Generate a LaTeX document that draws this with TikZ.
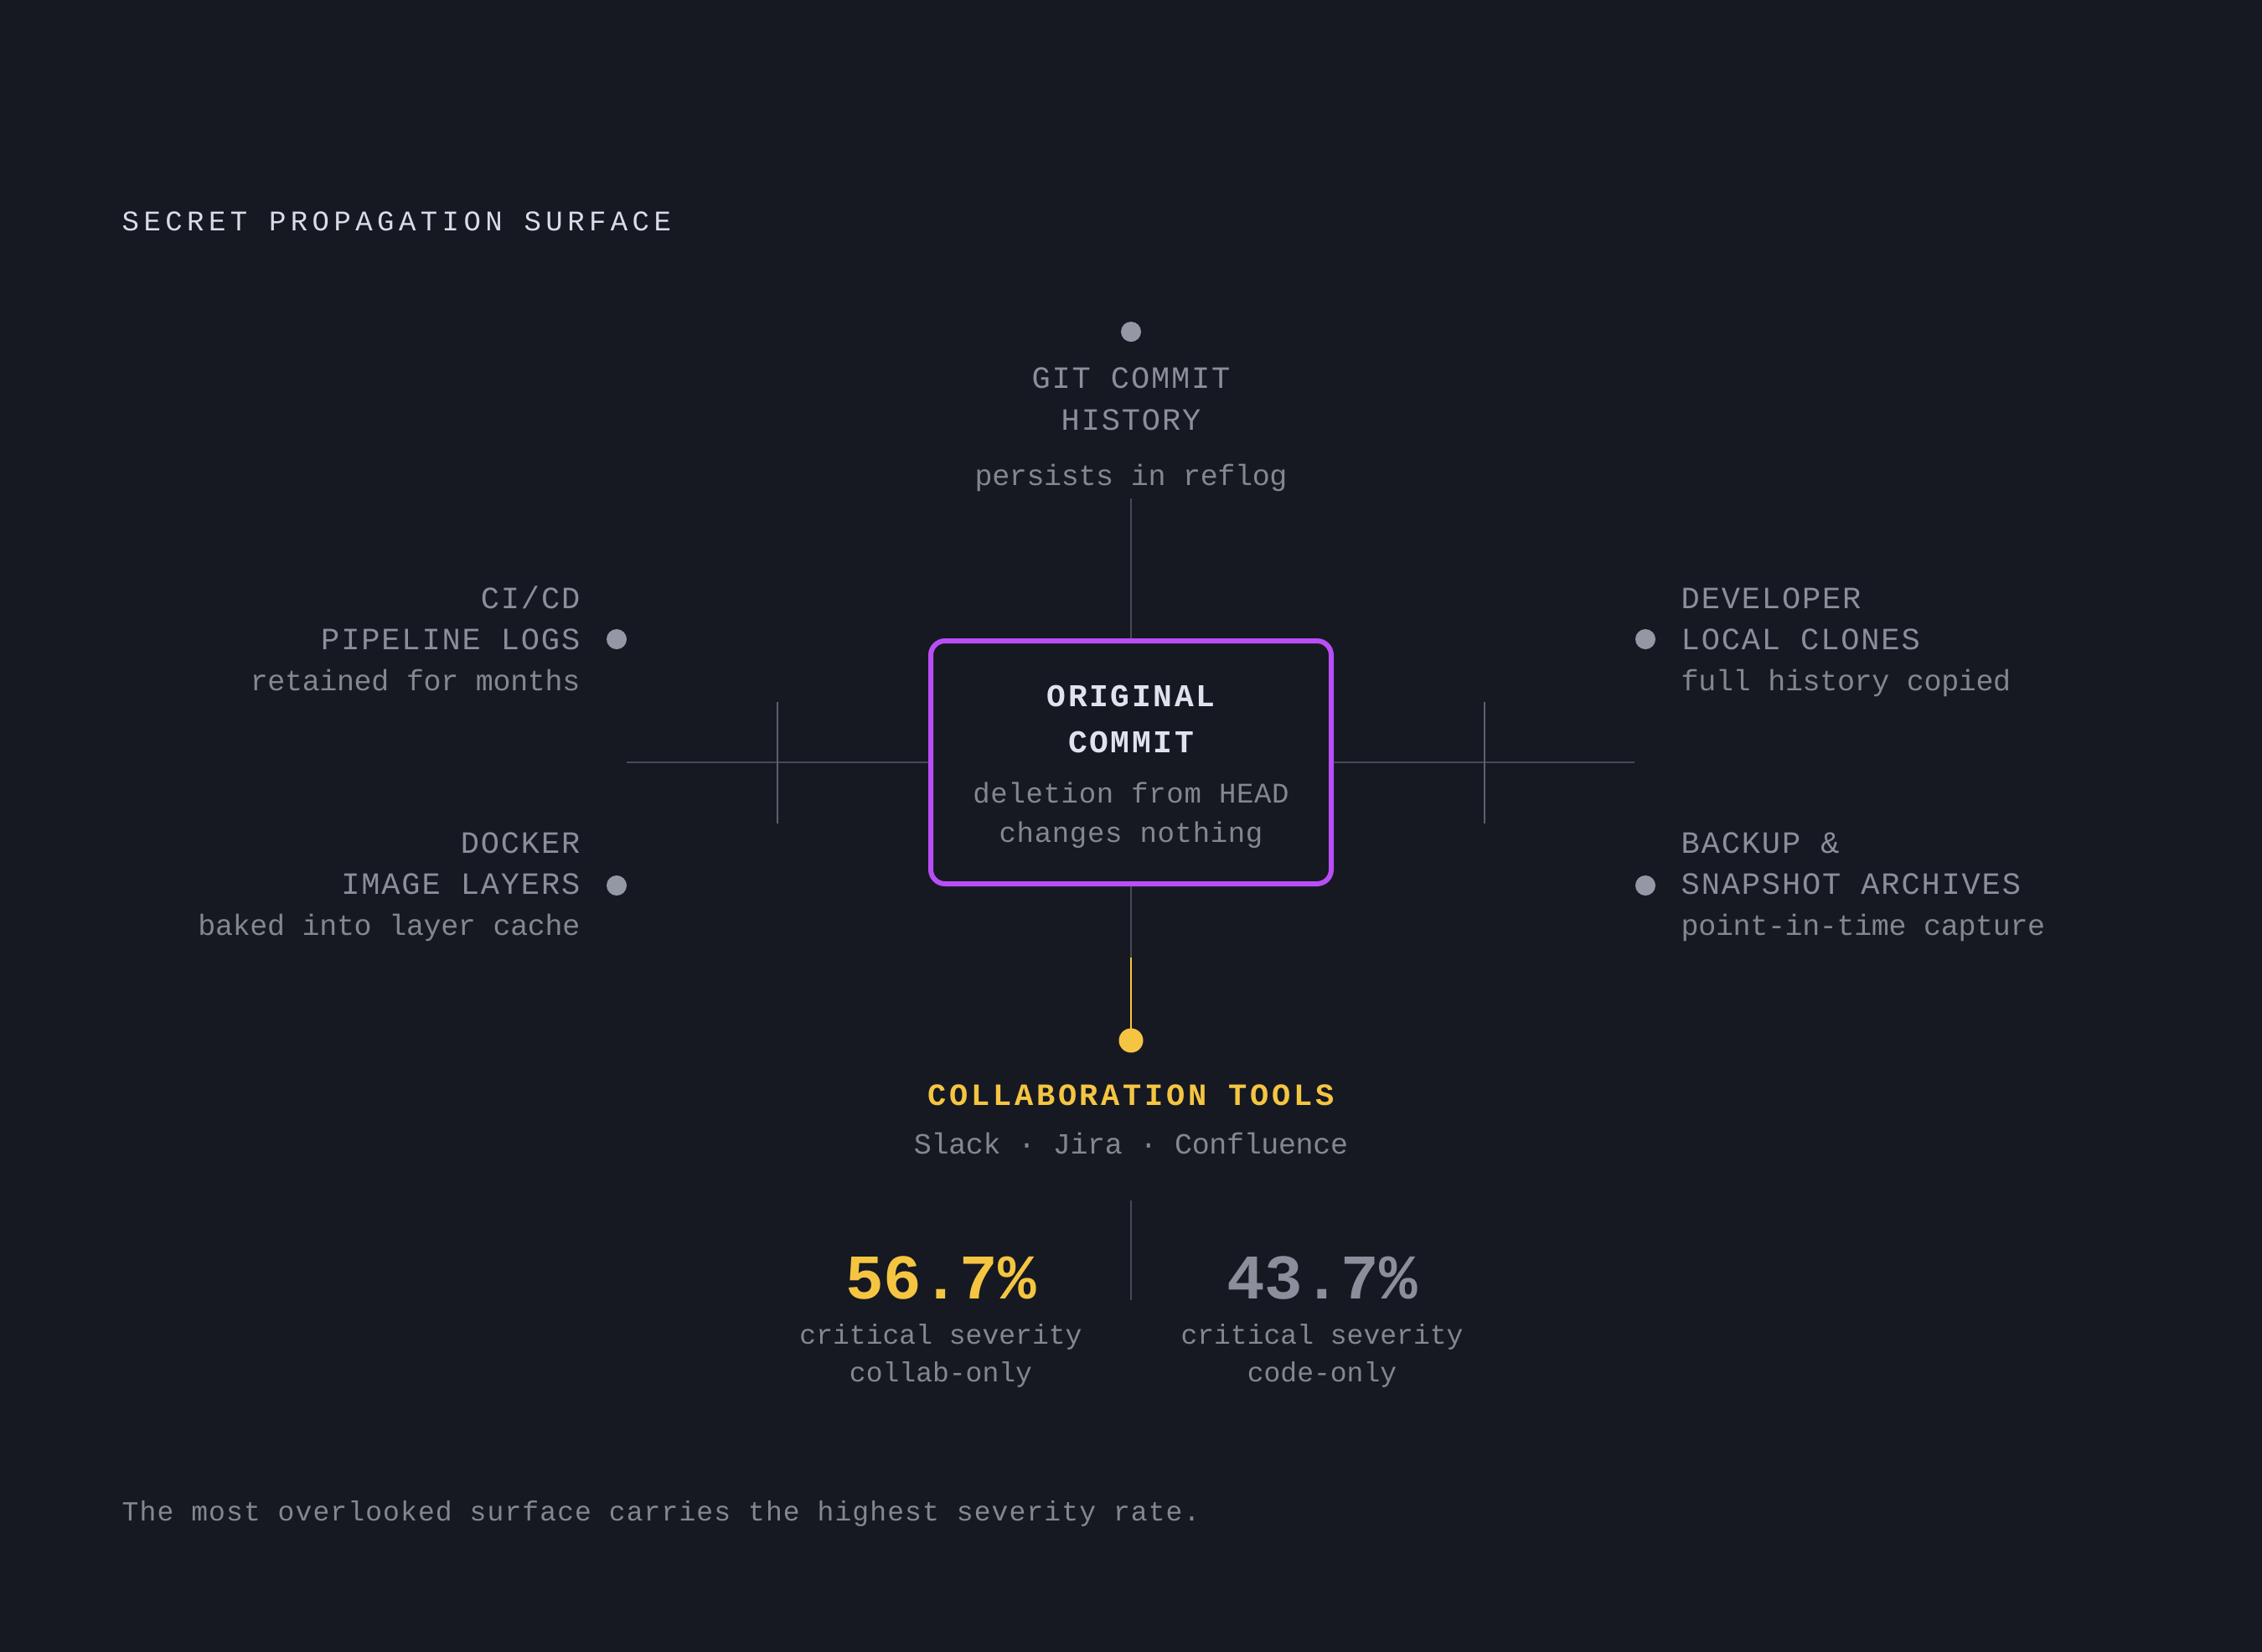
\documentclass[tikz,border=0pt]{standalone}
\usepackage{fontspec}
\setmainfont{Liberation Mono}

\definecolor{bg}{HTML}{161922}
\definecolor{titlecol}{HTML}{D9DCE6}
\definecolor{boxtext}{HTML}{E0E3ED}
\definecolor{labelgrey}{HTML}{8A8F9B}
\definecolor{subgrey}{HTML}{83888F}
\definecolor{dotgrey}{HTML}{9398A4}
\definecolor{linegrey}{HTML}{454A55}
\definecolor{crossgrey}{HTML}{5C616C}
\definecolor{violet}{HTML}{B94EF5}
\definecolor{gold}{HTML}{F5C542}

\begin{document}
\begin{tikzpicture}[y=-1cm,
    every node/.style={inner sep=0pt},
    heading/.style={font=\fontsize{9.67}{12}\selectfont\addfontfeature{LetterSpace=16}, text=titlecol},
    surf/.style={font=\fontsize{10.53}{12}\selectfont\addfontfeature{LetterSpace=5}, text=labelgrey},
    note/.style={font=\fontsize{9.96}{12}\selectfont\addfontfeature{LetterSpace=-1}, text=subgrey},
    boxhead/.style={font=\bfseries\fontsize{10.8}{12}\selectfont\addfontfeature{LetterSpace=7}, text=boxtext},
    boxnote/.style={font=\fontsize{9.67}{12}\selectfont\addfontfeature{LetterSpace=2}, text=subgrey},
    stat/.style={font=\bfseries\fontsize{21.6}{24}\selectfont},
    statnote/.style={font=\fontsize{9.4}{12}\selectfont, text=subgrey},
    wire/.style={linegrey, line width=0.7pt},
    tick/.style={crossgrey, line width=0.7pt},
    pin/.style={fill=dotgrey}]
  % -=-=-=-=- BACKGROUND -=-=-=-=-
  \useasboundingbox (0,0) rectangle (27,19.71);
  \fill[bg] (-0.2,-0.2) rectangle (27.2,19.91);
  \node[heading, anchor=base west] (title) at (1.45,2.75) {SECRET PROPAGATION SURFACE};

  % -=-=-=-=- ORIGINAL COMMIT -=-=-=-=-
  \node[draw=violet, line width=1.7pt, rounded corners=0.17cm, fill=bg,
        minimum width=4.78cm, minimum height=2.90cm] (commit) at (13.5,9.10) {};
  \node[boxhead, anchor=base] (orig) at (13.5,8.43) {ORIGINAL};
  \node[boxhead, anchor=base] (comm) at (13.5,8.98) {COMMIT};
  \node[boxnote, anchor=base] (del) at (13.5,9.58) {deletion from HEAD};
  \node[boxnote, anchor=base] (chg) at (13.5,10.05) {changes nothing};

  % -=-=-=-=- TOP: GIT HISTORY -=-=-=-=-
  \fill[pin] (13.5,3.96) circle (0.12);
  \node[surf, anchor=base] (git1) at (13.5,4.63) {GIT COMMIT};
  \node[surf, anchor=base] (git2) at (13.5,5.13) {HISTORY};
  \node[note, anchor=base] (gitnote) at (13.5,5.79) {persists in reflog};
  \coordinate (gittop) at (13.5,5.95);
  \draw[wire] (gittop) -- (commit.north);

  % -=-=-=-=- SIDE ARMS -=-=-=-=-
  \coordinate (lend) at (7.48,9.10);
  \coordinate (rend) at (19.51,9.10);
  \draw[wire] (lend) -- (commit.west);
  \draw[wire] (commit.east) -- (rend);
  \draw[tick] (9.28,8.38) -- (9.28,9.83);
  \draw[tick] (17.72,8.38) -- (17.72,9.83);

  % -=-=-=-=- LEFT -=-=-=-=-
  \fill[pin] (7.36,7.63) circle (0.12);
  \node[surf, anchor=base east] (ci1) at (6.93,7.26) {CI/CD};
  \node[surf, anchor=base east] (ci2) at (6.93,7.75) {PIPELINE LOGS};
  \node[note, anchor=base east] (cinote) at (6.93,8.24) {retained for months};
  \fill[pin] (7.36,10.57) circle (0.12);
  \node[surf, anchor=base east] (dock1) at (6.93,10.18) {DOCKER};
  \node[surf, anchor=base east] (dock2) at (6.93,10.67) {IMAGE LAYERS};
  \node[note, anchor=base east] (docknote) at (6.93,11.16) {baked into layer cache};

  % -=-=-=-=- RIGHT -=-=-=-=-
  \fill[pin] (19.64,7.63) circle (0.12);
  \node[surf, anchor=base west] (dev1) at (20.06,7.26) {DEVELOPER};
  \node[surf, anchor=base west] (dev2) at (20.06,7.75) {LOCAL CLONES};
  \node[note, anchor=base west] (devnote) at (20.06,8.24) {full history copied};
  \fill[pin] (19.64,10.57) circle (0.12);
  \node[surf, anchor=base west] (bak1) at (20.06,10.18) {BACKUP \&};
  \node[surf, anchor=base west] (bak2) at (20.06,10.67) {SNAPSHOT ARCHIVES};
  \node[note, anchor=base west] (baknote) at (20.06,11.16) {point-in-time capture};

  % -=-=-=-=- BOTTOM: COLLABORATION -=-=-=-=-
  \coordinate (split) at (13.5,11.43);
  \coordinate (drop) at (13.5,12.28);
  \draw[wire] (commit.south) -- (split);
  \draw[gold, line width=0.7pt] (split) -- (drop);
  \fill[gold] (13.5,12.42) circle (0.145);
  \node[boxhead, text=gold, anchor=base, font=\bfseries\fontsize{10.53}{12}\selectfont\addfontfeature{LetterSpace=10}]
    (collab) at (13.5,13.19) {COLLABORATION TOOLS};
  \node[note, anchor=base] (tools) at (13.5,13.77) {Slack · Jira · Confluence};

  % -=-=-=-=- STATS -=-=-=-=-
  \draw[wire] (13.5,14.33) -- (13.5,15.52);
  \node[stat, text=gold, anchor=base] (collabpct) at (11.23,15.50) {56.7\%};
  \node[stat, text=labelgrey, anchor=base] (codepct) at (15.78,15.50) {43.7\%};
  \node[statnote, anchor=base] (cs1) at (11.23,16.04) {critical severity};
  \node[statnote, anchor=base] (cs2) at (15.78,16.04) {critical severity};
  \node[statnote, anchor=base] (only1) at (11.23,16.49) {collab-only};
  \node[statnote, anchor=base] (only2) at (15.78,16.49) {code-only};

  % -=-=-=-=- FOOTER -=-=-=-=-
  \node[statnote, anchor=base west, font=\fontsize{9.4}{12}\selectfont\addfontfeature{LetterSpace=3.3}]
    (footer) at (1.45,18.15) {The most overlooked surface carries the highest severity rate.};
\end{tikzpicture}
\end{document}
